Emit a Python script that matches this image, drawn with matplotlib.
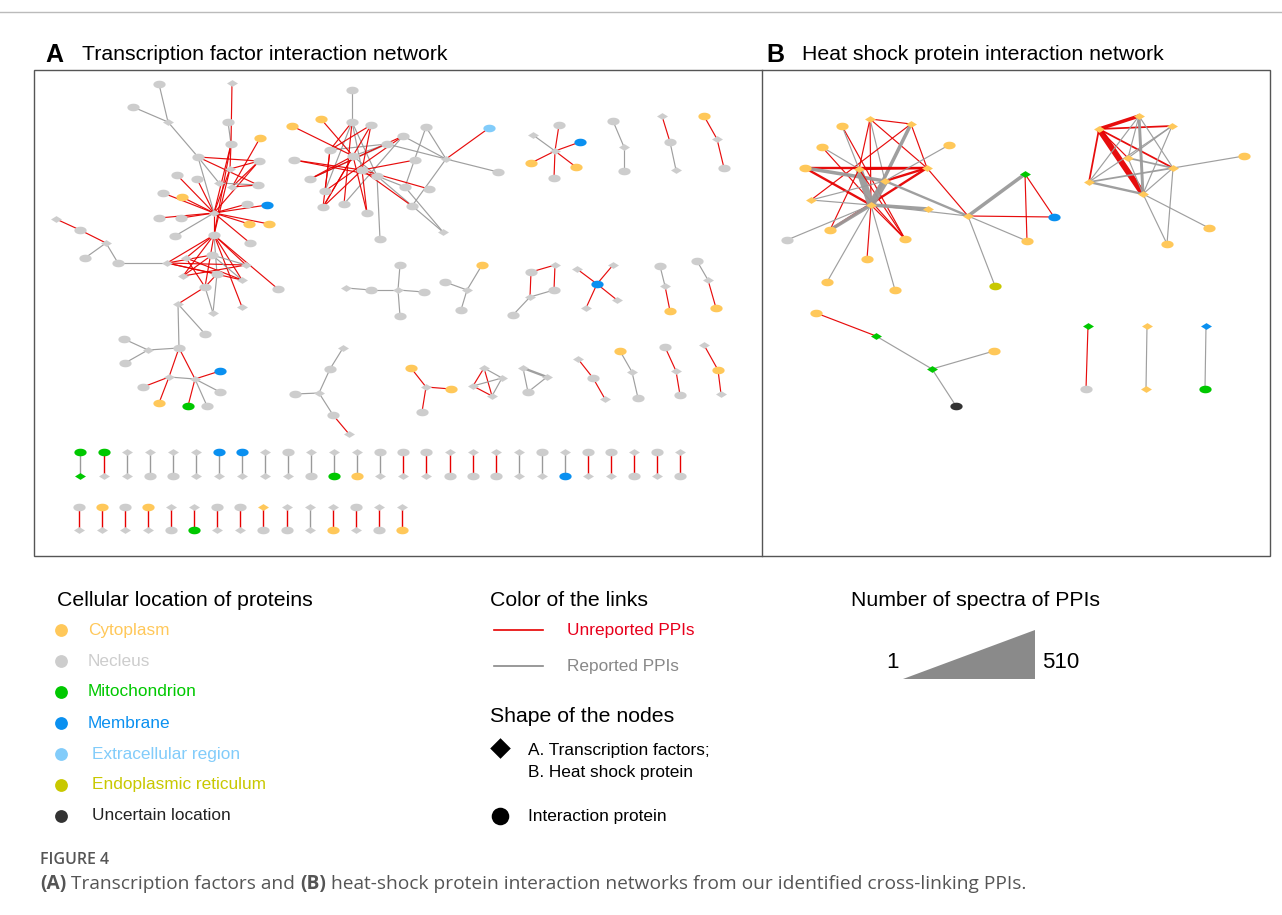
import matplotlib.pyplot as plt
import numpy as np
from matplotlib.path import Path
from matplotlib.patches import Rectangle, Polygon

plt.rcParams['font.family'] = ['Liberation Sans', 'DejaVu Sans']

# colours of cellular location
loc_col = {'c': '#FFC85A', 'n': '#CDCDCD', 'm': '#00C800', 'b': '#0A90F0',
           'x': '#82CCFA', 'e': '#C8C800', 'k': '#333333'}
link_col = {'U': '#E60000', 'R': '#9A9A9A'}

# ---- panel A, big cluster (x, y, location+shape) ----
nodes_A1 = {
    'a1': (159, 84, 'no'), 'a2': (232, 83, 'nd'), 'a3': (133, 107, 'no'), 'a4': (168, 122, 'nd'),
    'a5': (228, 122, 'no'), 'a6': (260, 138, 'co'), 'a7': (231, 144, 'no'), 'a8': (198, 157, 'no'),
    'a9': (259, 161, 'no'), 'a10': (230, 169, 'nd'), 'a11': (177, 175, 'no'), 'a12': (197, 179, 'no'),
    'a13': (219, 183, 'nd'), 'a14': (232, 187, 'nd'), 'a15': (258, 185, 'no'), 'a16': (163, 193, 'no'),
    'a17': (182, 197, 'co'), 'a18': (247, 204, 'no'), 'a19': (267, 205, 'bo'), 'a20': (214, 213, 'nd'),
    'a21': (159, 218, 'no'), 'a22': (181, 218, 'no'), 'a23': (249, 224, 'co'), 'a24': (269, 224, 'co'),
    'a25': (175, 236, 'no'), 'a26': (214, 235, 'no'), 'a27': (250, 243, 'no'), 'a28': (56, 219, 'nd'),
    'a29': (80, 230, 'no'), 'a30': (106, 243, 'nd'), 'a31': (85, 258, 'no'), 'a32': (118, 263, 'no'),
    'a33': (167, 263, 'nd'), 'a34': (186, 258, 'nd'), 'a35': (212, 255, 'no'), 'a36': (246, 265, 'nd'),
    'a37': (183, 276, 'nd'), 'a38': (217, 274, 'no'), 'a39': (242, 280, 'nd'), 'a40': (205, 287, 'no'),
    'a41': (278, 289, 'no'), 'a42': (242, 307, 'nd'), 'a43': (178, 304, 'nd'), 'a44': (213, 313, 'nd'),
    'a45': (205, 334, 'no'), 'a46': (179, 348, 'no'), 'a47': (124, 339, 'no'), 'a48': (148, 350, 'nd'),
    'a49': (125, 363, 'no'), 'a50': (169, 377, 'nd'), 'a51': (195, 379, 'nd'), 'a52': (220, 371, 'bo'),
    'a53': (143, 387, 'no'), 'a54': (220, 392, 'no'), 'a55': (159, 403, 'co'), 'a56': (188, 406, 'mo'),
    'a57': (207, 406, 'no'),
}
edges_A1 = [
    ('a1', 'a4', 'R'), ('a3', 'a4', 'R'), ('a4', 'a8', 'R'), ('a5', 'a7', 'R'), ('a2', 'a7', 'U'),
    ('a7', 'a20', 'U'), ('a7', 'a10', 'U'), ('a6', 'a14', 'U'), ('a8', 'a9', 'U'), ('a8', 'a15', 'U'),
    ('a9', 'a10', 'U'), ('a9', 'a14', 'U'), ('a9', 'a20', 'U'), ('a10', 'a20', 'U'), ('a11', 'a20', 'U'),
    ('a12', 'a20', 'U'), ('a16', 'a20', 'U'), ('a17', 'a20', 'U'), ('a18', 'a20', 'U'), ('a19', 'a20', 'U'),
    ('a21', 'a20', 'U'), ('a22', 'a20', 'U'), ('a23', 'a20', 'U'), ('a24', 'a20', 'U'), ('a27', 'a20', 'U'),
    ('a26', 'a20', 'U'), ('a8', 'a13', 'R'), ('a8', 'a20', 'R'), ('a25', 'a20', 'R'), ('a13', 'a15', 'R'),
    ('a14', 'a15', 'U'), ('a26', 'a7', 'U'), ('a26', 'a10', 'U'),
    ('a26', 'a33', 'U'), ('a26', 'a34', 'U'), ('a26', 'a37', 'U'), ('a26', 'a40', 'U'), ('a26', 'a39', 'U'),
    ('a26', 'a41', 'U'), ('a26', 'a42', 'U'), ('a26', 'a36', 'U'), ('a26', 'a38', 'R'), ('a33', 'a36', 'U'),
    ('a33', 'a39', 'U'), ('a34', 'a39', 'U'), ('a34', 'a40', 'U'), ('a37', 'a36', 'U'), ('a37', 'a35', 'U'),
    ('a35', 'a36', 'R'), ('a35', 'a39', 'R'), ('a38', 'a40', 'U'), ('a38', 'a44', 'R'), ('a40', 'a44', 'R'),
    ('a40', 'a43', 'U'), ('a38', 'a33', 'U'), ('a33', 'a35', 'U'),
    ('a28', 'a29', 'U'), ('a29', 'a30', 'U'), ('a30', 'a31', 'R'), ('a30', 'a32', 'R'), ('a32', 'a33', 'R'),
    ('a43', 'a46', 'R'), ('a43', 'a45', 'R'), ('a47', 'a48', 'R'), ('a49', 'a48', 'R'), ('a48', 'a46', 'R'),
    ('a46', 'a50', 'U'), ('a46', 'a51', 'U'), ('a50', 'a51', 'R'), ('a50', 'a53', 'U'), ('a50', 'a55', 'U'),
    ('a51', 'a52', 'U'), ('a51', 'a54', 'R'), ('a51', 'a56', 'U'), ('a51', 'a57', 'R'),
]

# ---- panel A, second cluster ----
nodes_A2 = {
    'b1': (352, 90, 'no'), 'b2': (292, 126, 'co'), 'b3': (321, 119, 'co'), 'b4': (352, 122, 'no'),
    'b5': (371, 125, 'no'), 'b6': (426, 127, 'no'), 'b7': (489, 128, 'xo'), 'b8': (403, 136, 'no'),
    'b9': (387, 144, 'no'), 'b10': (330, 150, 'no'), 'b11': (353, 156, 'no'), 'b12': (294, 160, 'no'),
    'b13': (415, 160, 'no'), 'b14': (446, 159, 'nd'), 'b15': (362, 170, 'no'), 'b16': (377, 176, 'no'),
    'b17': (310, 179, 'no'), 'b18': (498, 172, 'no'), 'b19': (325, 191, 'no'), 'b20': (405, 187, 'no'),
    'b21': (429, 189, 'no'), 'b22': (323, 207, 'no'), 'b23': (344, 204, 'no'), 'b24': (412, 206, 'no'),
    'b25': (367, 213, 'no'), 'b26': (380, 239, 'no'), 'b27': (443, 232, 'nd'),
}
edges_A2 = [
    ('b1', 'b4', 'R'), ('b4', 'b15', 'R'), ('b4', 'b19', 'R'), ('b4', 'b16', 'R'), ('b9', 'b17', 'R'),
    ('b8', 'b23', 'R'), ('b6', 'b20', 'R'), ('b6', 'b14', 'R'), ('b14', 'b18', 'R'), ('b14', 'b8', 'R'),
    ('b14', 'b9', 'R'), ('b14', 'b24', 'R'), ('b20', 'b27', 'R'), ('b16', 'b26', 'R'), ('b16', 'b27', 'R'),
    ('b16', 'b20', 'R'), ('b11', 'b16', 'R'), ('b9', 'b11', 'R'), ('b10', 'b9', 'R'),
    ('b2', 'b11', 'U'), ('b3', 'b11', 'U'), ('b4', 'b10', 'U'), ('b4', 'b23', 'U'), ('b5', 'b10', 'U'),
    ('b5', 'b22', 'U'), ('b5', 'b15', 'U'), ('b10', 'b19', 'U'), ('b10', 'b22', 'U'), ('b12', 'b15', 'U'),
    ('b12', 'b16', 'U'), ('b17', 'b8', 'U'), ('b15', 'b13', 'U'), ('b15', 'b21', 'U'), ('b15', 'b24', 'U'),
    ('b15', 'b25', 'U'), ('b15', 'b22', 'U'), ('b8', 'b19', 'U'), ('b14', 'b7', 'U'), ('b11', 'b22', 'U'),
    ('b11', 'b25', 'U'), ('b17', 'b11', 'U'),
]

# ---- panel A, small components ----
nodes_A3 = {
    'c1': (555, 151, 'nd'), 'c2': (533, 135, 'nd'), 'c3': (559, 125, 'no'), 'c4': (580, 142, 'bo'),
    'c5': (531, 163, 'co'), 'c6': (576, 167, 'co'), 'c7': (554, 178, 'no'),
    'd1': (613, 121, 'no'), 'd2': (624, 147, 'nd'), 'd3': (624, 171, 'no'),
    'e1': (662, 116, 'nd'), 'e2': (670, 142, 'no'), 'e3': (676, 170, 'nd'),
    'f1': (704, 116, 'co'), 'f2': (717, 139, 'nd'), 'f3': (724, 168, 'no'),
    'g1': (346, 288, 'nd'), 'g2': (371, 290, 'no'), 'g3': (400, 265, 'no'), 'g4': (398, 290, 'nd'),
    'g5': (424, 292, 'no'), 'g6': (400, 316, 'no'),
    'h1': (445, 282, 'no'), 'h2': (482, 265, 'co'), 'h3': (467, 290, 'nd'), 'h4': (461, 310, 'no'),
    'i1': (531, 272, 'no'), 'i2': (555, 265, 'nd'), 'i3': (554, 290, 'no'), 'i4': (530, 297, 'nd'),
    'i5': (513, 315, 'no'),
    'j1': (597, 284, 'bo'), 'j2': (577, 269, 'nd'), 'j3': (613, 265, 'nd'), 'j4': (617, 300, 'nd'),
    'j5': (586, 308, 'nd'),
    'k1': (660, 266, 'no'), 'k2': (665, 286, 'nd'), 'k3': (670, 311, 'co'),
    'l1': (697, 261, 'no'), 'l2': (708, 280, 'nd'), 'l3': (716, 308, 'co'),
    'm1': (343, 348, 'nd'), 'm2': (330, 369, 'no'), 'm3': (295, 394, 'no'), 'm4': (319, 393, 'nd'),
    'm5': (333, 415, 'no'), 'm6': (349, 434, 'nd'),
    'n1': (411, 368, 'co'), 'n2': (426, 387, 'nd'), 'n3': (451, 389, 'co'), 'n4': (422, 412, 'no'),
    'o1': (484, 368, 'nd'), 'o2': (502, 378, 'nd'), 'o3': (473, 386, 'nd'), 'o4': (492, 396, 'nd'),
    'p1': (523, 368, 'nd'), 'p2': (547, 377, 'nd'), 'p3': (528, 392, 'no'),
    'q1': (578, 359, 'nd'), 'q2': (593, 378, 'no'), 'q3': (605, 399, 'nd'),
    's1': (620, 351, 'co'), 's2': (632, 372, 'nd'), 's3': (638, 398, 'no'),
    't1': (665, 347, 'no'), 't2': (676, 371, 'nd'), 't3': (680, 395, 'no'),
    'v1': (704, 345, 'nd'), 'v2': (718, 370, 'co'), 'v3': (721, 394, 'nd'),
}
edges_A3 = [
    ('c1', 'c2', 'R'), ('c1', 'c3', 'U'), ('c1', 'c4', 'U'), ('c1', 'c5', 'U'), ('c1', 'c6', 'U'), ('c1', 'c7', 'U'),
    ('d1', 'd2', 'R'), ('d2', 'd3', 'R'), ('e1', 'e2', 'U'), ('e2', 'e3', 'R'), ('f1', 'f2', 'U'), ('f2', 'f3', 'U'),
    ('g1', 'g2', 'R'), ('g2', 'g4', 'R'), ('g3', 'g4', 'R'), ('g4', 'g5', 'R'), ('g4', 'g6', 'R'),
    ('h1', 'h3', 'R'), ('h2', 'h3', 'R'), ('h3', 'h4', 'R'),
    ('i1', 'i2', 'U'), ('i2', 'i3', 'U'), ('i1', 'i4', 'U'), ('i4', 'i3', 'R'), ('i4', 'i5', 'R'),
    ('j1', 'j2', 'U'), ('j1', 'j3', 'U'), ('j1', 'j4', 'U'), ('j1', 'j5', 'U'),
    ('k1', 'k2', 'R'), ('k2', 'k3', 'U'), ('l1', 'l2', 'R'), ('l2', 'l3', 'U'),
    ('m1', 'm2', 'R'), ('m2', 'm4', 'R'), ('m3', 'm4', 'R'), ('m4', 'm5', 'R'), ('m5', 'm6', 'U'),
    ('n1', 'n2', 'U'), ('n2', 'n3', 'U'), ('n2', 'n4', 'U'),
    ('o1', 'o3', 'U'), ('o1', 'o4', 'U'), ('o1', 'o2', 'R'), ('o3', 'o2', 'R'), ('o3', 'o4', 'U'), ('o2', 'o4', 'R'),
    ('p1', 'p2', 'R', 2), ('p1', 'p3', 'R'), ('p2', 'p3', 'R'),
    ('q1', 'q2', 'U'), ('q2', 'q3', 'U'), ('s1', 's2', 'R'), ('s2', 's3', 'R'),
    ('t1', 't2', 'U'), ('t2', 't3', 'U'), ('v1', 'v2', 'U'), ('v2', 'v3', 'U'),
]

# ---- panel A, rows of single pairs ----
row1_x = [80, 104, 127, 150, 173, 196, 219, 242, 265, 288, 311, 334, 357, 380,
          403, 426, 450, 473, 496, 519, 542, 565, 588, 611, 634, 657, 680]
row1_top = ['mo', 'mo', 'nd', 'nd', 'nd', 'nd', 'bo', 'bo', 'nd', 'no', 'nd', 'nd', 'nd', 'no',
            'no', 'no', 'nd', 'nd', 'nd', 'nd', 'no', 'nd', 'no', 'no', 'nd', 'no', 'nd']
row1_bot = ['md', 'nd', 'nd', 'no', 'no', 'nd', 'nd', 'nd', 'nd', 'nd', 'no', 'mo', 'co', 'nd',
            'nd', 'nd', 'no', 'no', 'no', 'nd', 'nd', 'bo', 'nd', 'nd', 'no', 'nd', 'no']
row1_link = ['R', 'U', 'R', 'R', 'R', 'R', 'R', 'R', 'R', 'R', 'R', 'R', 'R', 'R',
             'U', 'U', 'U', 'U', 'U', 'R', 'R', 'R', 'U', 'U', 'U', 'U', 'U']
row1_y = (452, 476)
row2_x = [79, 102, 125, 148, 171, 194, 217, 240, 263, 287, 310, 333, 356, 379, 402]
row2_top = ['no', 'co', 'no', 'co', 'nd', 'nd', 'no', 'no', 'cd', 'nd', 'nd', 'nd', 'no', 'nd', 'nd']
row2_bot = ['nd', 'nd', 'nd', 'nd', 'no', 'mo', 'nd', 'nd', 'no', 'no', 'nd', 'co', 'nd', 'no', 'co']
row2_link = ['U', 'U', 'U', 'U', 'U', 'U', 'U', 'U', 'U', 'U', 'R', 'U', 'U', 'U', 'U']
row2_y = (507, 530)

# ---- panel B ----
nodes_B = {
    'B1': (870, 119, 'cd'), 'B2': (911, 124, 'cd'), 'B3': (842, 126, 'co'), 'B4': (822, 147, 'co'),
    'B5': (949, 145, 'co'), 'B6': (805, 168, 'co'), 'B7': (859, 169, 'cd'), 'B8': (927, 168, 'cd'),
    'B9': (885, 181, 'cd'), 'B10': (811, 200, 'cd'), 'B11': (871, 205, 'cd'), 'B12': (928, 209, 'cd'),
    'B13': (968, 216, 'cd'), 'B14': (830, 230, 'co'), 'B15': (905, 239, 'co'), 'B16': (787, 240, 'no'),
    'B17': (867, 259, 'co'), 'B18': (827, 282, 'co'), 'B19': (895, 290, 'co'), 'B20': (1025, 174, 'md'),
    'B21': (1054, 217, 'bo'), 'B22': (1027, 241, 'co'), 'B23': (995, 286, 'eo'),
    'C1': (1139, 116, 'cd'), 'C2': (1099, 129, 'cd'), 'C3': (1172, 126, 'cd'), 'C4': (1128, 158, 'cd'),
    'C5': (1173, 168, 'cd'), 'C6': (1244, 156, 'co'), 'C7': (1089, 182, 'cd'), 'C8': (1143, 194, 'cd'),
    'C9': (1209, 228, 'co'), 'C10': (1167, 244, 'co'),
    'D1': (816, 313, 'co'), 'D2': (876, 336, 'md'), 'D3': (932, 369, 'md'), 'D4': (994, 351, 'co'),
    'D5': (956, 406, 'ko'),
    'E1': (1088, 326, 'md'), 'E2': (1086, 389, 'no'), 'E3': (1147, 326, 'cd'), 'E4': (1146, 389, 'cd'),
    'E5': (1206, 326, 'bd'), 'E6': (1205, 389, 'mo'),
}
# (node, node, link type, relative number of spectra -> width)
edges_B = [
    ('B1', 'B2', 'U', 1), ('B1', 'B7', 'U', 1), ('B1', 'B11', 'U', 1), ('B1', 'B8', 'U', 1), ('B1', 'B9', 'R', 1),
    ('B2', 'B8', 'U', 1), ('B2', 'B10', 'U', 1), ('B2', 'B11', 'R', 3), ('B3', 'B15', 'U', 1), ('B3', 'B7', 'R', 1),
    ('B4', 'B7', 'R', 1), ('B4', 'B15', 'U', 1), ('B6', 'B8', 'U', 2), ('B6', 'B11', 'U', 2), ('B6', 'B9', 'R', 3),
    ('B7', 'B11', 'R', 6), ('B7', 'B15', 'U', 1), ('B7', 'B14', 'U', 1), ('B7', 'B8', 'U', 2),
    ('B8', 'B14', 'U', 2), ('B8', 'B9', 'U', 2), ('B8', 'B13', 'U', 1), ('B9', 'B11', 'R', 6),
    ('B11', 'B12', 'R', 3), ('B9', 'B13', 'R', 2), ('B11', 'B16', 'R', 1), ('B11', 'B17', 'U', 1),
    ('B11', 'B18', 'R', 1), ('B11', 'B19', 'R', 1), ('B11', 'B15', 'U', 1), ('B11', 'B14', 'R', 3),
    ('B11', 'B13', 'R', 1), ('B10', 'B11', 'R', 1), ('B10', 'B9', 'R', 1), ('B5', 'B9', 'R', 1),
    ('B13', 'B20', 'R', 3), ('B13', 'B21', 'U', 1), ('B13', 'B22', 'R', 1), ('B13', 'B23', 'R', 1),
    ('B20', 'B21', 'U', 1), ('B20', 'B22', 'U', 1),
    ('C2', 'C1', 'U', 3), ('C2', 'C3', 'U', 1.5), ('C2', 'C5', 'U', 1.5), ('C2', 'C4', 'U', 1),
    ('C2', 'C7', 'U', 1.5), ('C2', 'C8', 'U', 5), ('C1', 'C4', 'R', 1), ('C1', 'C8', 'R', 2.5),
    ('C1', 'C5', 'R', 1), ('C1', 'C7', 'R', 1), ('C3', 'C4', 'R', 1), ('C3', 'C8', 'R', 1),
    ('C3', 'C7', 'R', 1), ('C4', 'C5', 'R', 1.5), ('C4', 'C8', 'R', 1), ('C5', 'C6', 'R', 1),
    ('C5', 'C7', 'R', 1.5), ('C5', 'C8', 'R', 1), ('C5', 'C10', 'R', 1), ('C7', 'C8', 'R', 2),
    ('C8', 'C9', 'R', 1), ('C8', 'C10', 'R', 1),
    ('D1', 'D2', 'U', 1), ('D2', 'D3', 'R', 1), ('D3', 'D4', 'R', 1), ('D3', 'D5', 'R', 1),
    ('E1', 'E2', 'U', 1), ('E3', 'E4', 'R', 1), ('E5', 'E6', 'R', 1),
]

legend_loc = ['Cytoplasm', 'Necleus', 'Mitochondrion', 'Membrane',
              'Extracellular region', 'Endoplasmic reticulum', 'Uncertain location']
legend_loc_key = ['c', 'n', 'm', 'b', 'x', 'e', 'k']
legend_text_col = ['#FFC85A', '#CDCDCD', '#00C800', '#0A90F0', '#82CCFA', '#C8C800', '#222222']

caption_parts = [('(A)', 'bold'), (' Transcription factors and ', 'normal'), ('(B)', 'bold'),
                 (' heat-shock protein interaction networks from our identified cross-linking PPIs.', 'normal')]

# marker shapes
t = np.linspace(0, 2 * np.pi, 40)
ellipse = Path(np.column_stack([np.cos(t), 0.62 * np.sin(t)]), closed=True)
diamond = Path([(1, 0), (0, 0.62), (-1, 0), (0, -0.62), (1, 0)], closed=True)

fig = plt.figure(figsize=(12.82, 9.15), dpi=100)
ax = fig.add_axes([0, 0, 1, 1])
ax.set_xlim(0, 1282)
ax.set_ylim(915, 0)
ax.axis('off')


def draw_node(x, y, code):
    loc, shp = code[0], code[1]
    if shp == 'o':
        ax.scatter([x], [y], s=78, marker=ellipse, c=loc_col[loc], linewidths=0, zorder=3)
    else:
        ax.scatter([x], [y], s=62, marker=diamond, c=loc_col[loc], linewidths=0, zorder=3)


def draw_net(nodes, edges):
    for e in edges:
        n1, n2, kind = e[0], e[1], e[2]
        w = e[3] if len(e) > 3 else 1
        x1, y1, _ = nodes[n1]
        x2, y2, _ = nodes[n2]
        ax.plot([x1, x2], [y1, y2], color=link_col[kind], lw=0.85 * w, alpha=0.95,
                solid_capstyle='butt', zorder=2)
    for k, (x, y, code) in nodes.items():
        draw_node(x, y, code)


draw_net(nodes_A1, edges_A1)
draw_net(nodes_A2, edges_A2)
draw_net(nodes_A3, edges_A3)
draw_net(nodes_B, edges_B)

for xs, tops, bots, links, (y0, y1) in [(row1_x, row1_top, row1_bot, row1_link, row1_y),
                                        (row2_x, row2_top, row2_bot, row2_link, row2_y)]:
    for x, tp, bt, lk in zip(xs, tops, bots, links):
        ax.plot([x, x], [y0, y1], color=link_col[lk], lw=1.0, zorder=2)
        draw_node(x, y0, tp)
        draw_node(x, y1, bt)

# frame
ax.plot([0, 1282], [12, 12], color='#BBBBBB', lw=1)
ax.add_patch(Rectangle((34, 70), 1236, 486, fill=False, ec='#555555', lw=1))
ax.plot([762, 762], [70, 556], color='#555555', lw=1)

ax.text(45, 55, 'A', fontsize=18, fontweight='bold', va='center')
ax.text(82, 55, 'Transcription factor interaction network', fontsize=15.3, va='center')
ax.text(766, 55, 'B', fontsize=18, fontweight='bold', va='center')
ax.text(802, 55, 'Heat shock protein interaction network', fontsize=15.3, va='center')

# legend: cellular location
ax.text(57, 600, 'Cellular location of proteins', fontsize=15.3, va='center')
for i, (lab, key, tc) in enumerate(zip(legend_loc, legend_loc_key, legend_text_col)):
    y = 630 + i * 31
    ax.scatter([61], [y], s=85, c=loc_col[key], linewidths=0)
    tx = 88 if i < 4 else 92
    ax.text(tx, y, lab, fontsize=12.4, color=tc, va='center')

# legend: links
ax.text(490, 600, 'Color of the links', fontsize=15.3, va='center')
ax.plot([494, 543], [630, 630], color='#E60000', lw=1.2)
ax.text(567, 630, 'Unreported PPIs', fontsize=12.4, color='#E8001C', va='center')
ax.plot([494, 543], [666, 666], color='#888888', lw=1.2)
ax.text(567, 666, 'Reported PPIs', fontsize=12.4, color='#888888', va='center')

# legend: shapes
ax.text(490, 716, 'Shape of the nodes', fontsize=15.3, va='center')
ax.scatter([500], [748], s=110, marker='D', c='black', linewidths=0)
ax.text(528, 751, 'A. Transcription factors;', fontsize=12.4, va='center')
ax.text(528, 772, 'B. Heat shock protein', fontsize=12.4, va='center')
ax.scatter([500], [816], s=160, marker='o', c='black', linewidths=0)
ax.text(528, 816, 'Interaction protein', fontsize=12.4, va='center')

# legend: spectra
ax.text(851, 600, 'Number of spectra of PPIs', fontsize=15.3, va='center')
ax.add_patch(Polygon([(903, 679), (1035, 679), (1035, 630)], closed=True, fc='#8A8A8A', ec='none'))
ax.text(899, 663, '1', fontsize=16, va='center', ha='right')
ax.text(1042, 663, '510', fontsize=16, va='center')

# caption
cap_font = ['Open Sans', 'DejaVu Sans']
ax.text(40, 860, 'FIGURE 4', fontsize=11.5, color='#555555', va='center', family=cap_font,
        fontweight='semibold')
fig.canvas.draw()
rend = fig.canvas.get_renderer()
cx = 40
for txt, wt in caption_parts:
    tobj = ax.text(cx, 884, txt, fontsize=13.8, color='#555555', va='center', family=cap_font,
                   fontweight=wt)
    cx += tobj.get_window_extent(renderer=rend).width

fig.savefig('out.png', dpi=100)
